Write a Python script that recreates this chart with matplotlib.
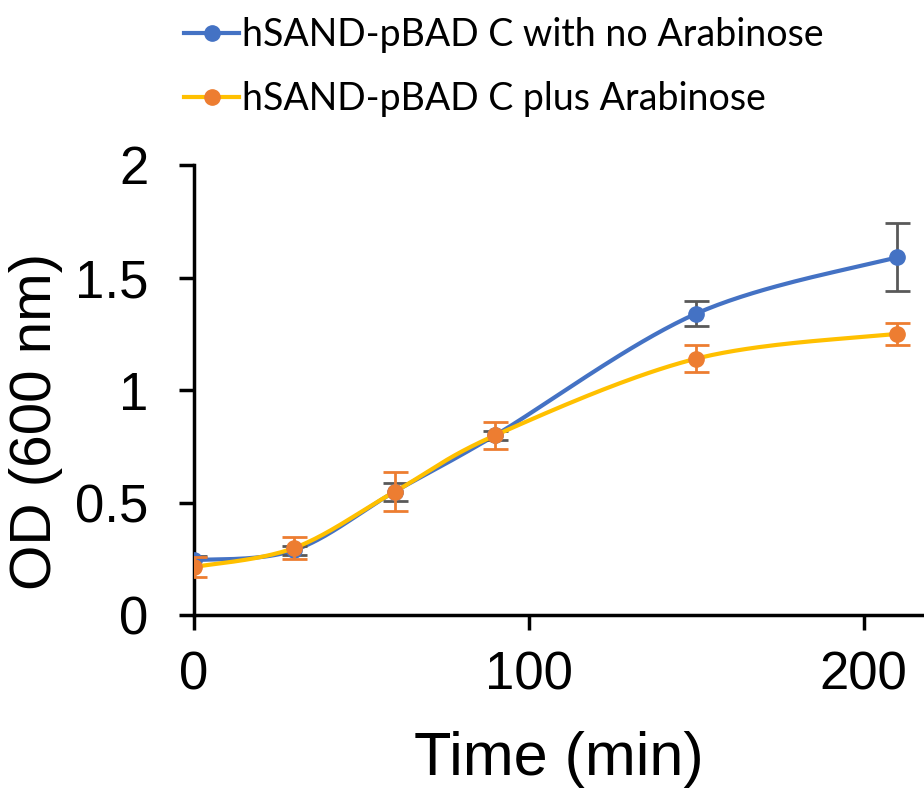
import numpy as np
import matplotlib
matplotlib.use('Agg')
import matplotlib.pyplot as plt
from matplotlib.lines import Line2D

# Data
time_min = [0, 30, 60, 90, 150, 210]
od_no_ara = [0.245, 0.29, 0.55, 0.80, 1.34, 1.59]
err_no_ara = [0.02, 0.02, 0.04, 0.02, 0.055, 0.15]
od_plus_ara = [0.215, 0.30, 0.55, 0.80, 1.14, 1.25]
err_plus_ara = [0.045, 0.05, 0.085, 0.06, 0.06, 0.05]

labels = ['hSAND-pBAD C with no Arabinose', 'hSAND-pBAD C plus Arabinose']


def smooth_line(x, y, n=40):
    """Excel-style smoothed line: cubic Bezier through points (Catmull-Rom)."""
    x = np.asarray(x, float)
    y = np.asarray(y, float)
    px = np.concatenate([[x[0]], x, [x[-1]]])
    py = np.concatenate([[y[0]], y, [y[-1]]])
    xs, ys = [], []
    t = np.linspace(0, 1, n)
    for i in range(1, len(px) - 2):
        p0 = np.array([px[i], py[i]])
        p3 = np.array([px[i + 1], py[i + 1]])
        c1 = p0 + (np.array([px[i + 1], py[i + 1]]) - np.array([px[i - 1], py[i - 1]])) / 6
        c2 = p3 - (np.array([px[i + 2], py[i + 2]]) - np.array([px[i], py[i]])) / 6
        b = ((1 - t) ** 3)[:, None] * p0 + (3 * (1 - t) ** 2 * t)[:, None] * c1 \
            + (3 * (1 - t) * t ** 2)[:, None] * c2 + (t ** 3)[:, None] * p3
        xs.append(b[:, 0])
        ys.append(b[:, 1])
    return np.concatenate(xs), np.concatenate(ys)


blue = '#4472C4'
orange = '#ED7D31'
yellow = '#FFC000'
grey = '#595959'

plt.rcParams['font.family'] = ['Liberation Sans', 'DejaVu Sans']

fig = plt.figure(figsize=(9.24, 7.89), dpi=100)
ax = fig.add_axes([0.21, 0.22, 0.79, 0.571])

# series without arabinose
sx, sy = smooth_line(time_min, od_no_ara)
ax.plot(sx, sy, color=blue, lw=3, zorder=2, solid_capstyle='round')
ax.errorbar(time_min, od_no_ara, yerr=err_no_ara, fmt='none', ecolor=grey,
            elinewidth=2, capsize=9, capthick=2, zorder=3)
ax.plot(time_min, od_no_ara, 'o', color=blue, ms=11, zorder=4)

# series plus arabinose
sx, sy = smooth_line(time_min, od_plus_ara)
ax.plot(sx, sy, color=yellow, lw=3, zorder=5, solid_capstyle='round')
ax.errorbar(time_min, od_plus_ara, yerr=err_plus_ara, fmt='none', ecolor=orange,
            elinewidth=2, capsize=9, capthick=2, zorder=6)
ax.plot(time_min, od_plus_ara, 'o', color=orange, ms=11, zorder=7)

ax.set_xlim(0, 218)
ax.set_ylim(0, 2)
ax.set_xticks([0, 100, 200])
ax.set_yticks([0, 0.5, 1, 1.5, 2])
ax.set_yticklabels(['0', '0.5', '1', '1.5', '2'])
ax.spines['top'].set_visible(False)
ax.spines['right'].set_visible(False)
for s in ['left', 'bottom']:
    ax.spines[s].set_linewidth(2.5)
    ax.spines[s].set_color('black')
ax.tick_params(axis='both', direction='out', length=11, width=2.5,
               labelsize=38)
ax.tick_params(axis='y', pad=22)
ax.tick_params(axis='x', pad=14)
ax.set_xlabel('Time (min)', fontsize=44, labelpad=22)
ax.set_ylabel('OD (600 nm)', fontsize=42)
ax.yaxis.set_label_coords(-0.18, 0.43)
for sp in ax.spines.values():
    sp.set_clip_on(False)

handles = [
    Line2D([], [], color=blue, lw=3, marker='o', ms=11, mfc=blue, mec=blue),
    Line2D([], [], color=yellow, lw=3, marker='o', ms=11, mfc=orange, mec=orange),
]
fig.legend(handles, labels, loc='upper left', bbox_to_anchor=(0.163, 1.021),
           frameon=False, prop={'family': 'Lato', 'size': 27},
           handlelength=1.45, handletextpad=0.1, labelspacing=0.75)

fig.savefig('out.png', dpi=100)
